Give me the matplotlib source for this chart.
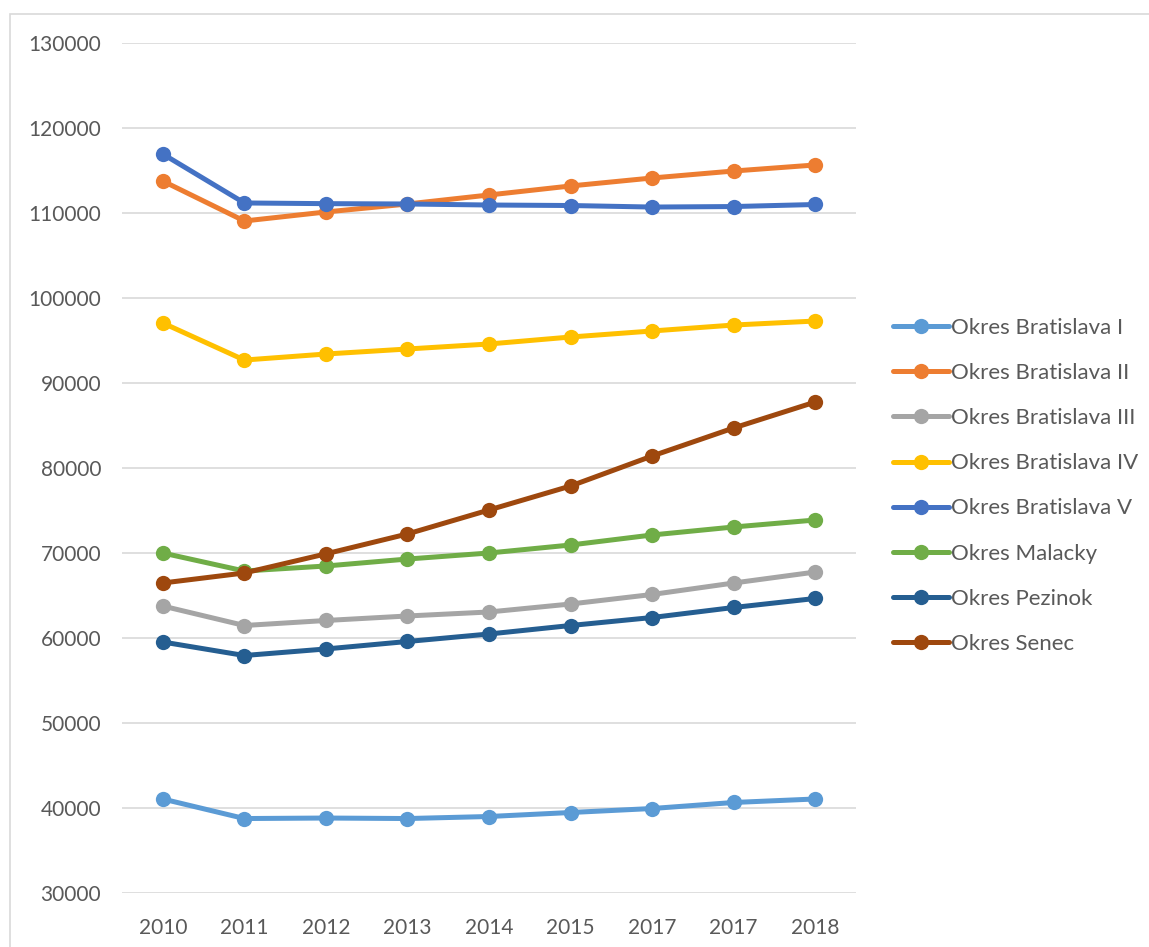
import matplotlib
matplotlib.use("Agg")
import matplotlib.pyplot as plt
from matplotlib.patches import Rectangle

years = ["2010", "2011", "2012", "2013", "2014", "2015", "2017", "2017", "2018"]
series_names = ["Okres Bratislava I", "Okres Bratislava II", "Okres Bratislava III",
                "Okres Bratislava IV", "Okres Bratislava V", "Okres Malacky",
                "Okres Pezinok", "Okres Senec"]
bratislava_1 = [41060, 38760, 38820, 38760, 39000, 39470, 39940, 40650, 41060]
bratislava_2 = [113760, 109060, 110120, 111060, 112120, 113180, 114120, 114940, 115650]
bratislava_3 = [63760, 61470, 62060, 62590, 63060, 64000, 65120, 66470, 67760]
bratislava_4 = [97060, 92700, 93410, 94000, 94590, 95410, 96120, 96820, 97290]
bratislava_5 = [116940, 111180, 111100, 111060, 110940, 110880, 110700, 110760, 111000]
malacky = [70000, 67880, 68470, 69290, 70000, 70940, 72120, 73060, 73880]
pezinok = [59530, 57940, 58710, 59590, 60470, 61470, 62410, 63590, 64650]
senec = [66470, 67650, 69900, 72240, 75060, 77880, 81410, 84710, 87760]
y_ticks = [30000, 40000, 50000, 60000, 70000, 80000, 90000, 100000, 110000, 120000, 130000]

colors = ["#5B9BD5", "#ED7D31", "#A5A5A5", "#FFC000", "#4472C4", "#70AD47", "#255E91", "#9E480E"]
data = [bratislava_1, bratislava_2, bratislava_3, bratislava_4, bratislava_5, malacky, pezinok, senec]

plt.rcParams['font.family'] = ['Lato', 'DejaVu Sans']
W, H = 1149, 947
fig = plt.figure(figsize=(W / 100, H / 100), dpi=100)
fig.patch.set_facecolor("white")

# outer chart border
fig.patches.append(Rectangle((9.5 / W, -0.05), 1.2, 1.05 - 14 / H,
                             transform=fig.transFigure, fill=False,
                             edgecolor="#D9D9D9", linewidth=1.2))

ax = fig.add_axes([122 / W, 1 - 893 / H, (856 - 122) / W, (893 - 43) / H])
x = list(range(len(years)))
handles = []
for name, vals, c in zip(series_names, data, colors):
    h, = ax.plot(x, vals, color=c, linewidth=3.6, marker="o", markersize=11,
                 markeredgewidth=0, label=name, solid_capstyle="round",
                 solid_joinstyle="round")
    handles.append(h)

ax.set_xlim(-0.5, len(years) - 0.5)
ax.set_ylim(30000, 130000)
ax.set_yticks(y_ticks)
ax.set_yticklabels([str(v) for v in y_ticks])
ax.set_xticks(x)
ax.set_xticklabels(years)
ax.grid(axis="y", color="#D9D9D9", linewidth=1.2)
ax.set_axisbelow(True)
for s in ax.spines.values():
    s.set_visible(False)
ax.tick_params(axis="both", length=0, labelsize=15, colors="#595959")
ax.tick_params(axis="y", pad=15)
ax.tick_params(axis="x", pad=18)

leg = fig.legend(handles=handles, loc="upper left",
                 bbox_to_anchor=(893 / W, 1 - 318 / H), frameon=False,
                 fontsize=16, handlelength=2.5, handletextpad=0.1,
                 labelspacing=1.13, borderpad=0, borderaxespad=0)
for t in leg.get_texts():
    t.set_color("#595959")

fig.savefig("out.png", dpi=100, facecolor="white")
